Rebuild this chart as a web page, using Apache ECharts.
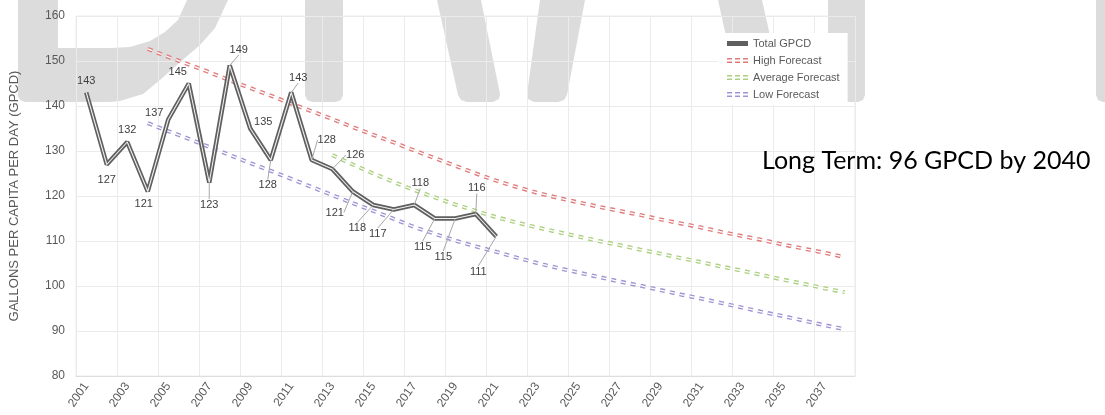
<!DOCTYPE html>
<html>
<head>
<meta charset="utf-8">
<title>Gallons per capita per day</title>
<script src="https://cdn.jsdelivr.net/npm/echarts@6/dist/echarts.min.js"></script>
<style>
  html, body { margin: 0; padding: 0; background: #ffffff; }
  #chart { width: 1105px; height: 415px; }
</style>
</head>
<body>
<div id="chart"></div>
<script>
// Category axis: one slot per year
const years = [
  '2001','2002','2003','2004','2005','2006','2007','2008','2009','2010',
  '2011','2012','2013','2014','2015','2016','2017','2018','2019','2020',
  '2021','2022','2023','2024','2025','2026','2027','2028','2029','2030',
  '2031','2032','2033','2034','2035','2036','2037','2038'
];

// Measured total GPCD, 2001-2021
const totalGpcd = [143, 127, 132, 121, 137, 145, 123, 149, 135, 128,
                   143, 128, 126, 121, 118, 117, 118, 115, 115, 116, 111];

// Forecast curves (first year, then one value per year to 2038)
const highForecastStart = '2004';
const highForecast = [152.7, 150.9, 149.2, 147.5, 145.7, 144.0, 142.3, 140.5, 138.8, 137.1,
                      135.3, 133.6, 131.9, 130.1, 128.4, 126.7, 125.0, 123.4, 122.0, 120.7,
                      119.6, 118.6, 117.6, 116.7, 115.8, 114.8, 113.9, 113.0, 112.0, 111.1,
                      110.2, 109.2, 108.3, 107.4, 106.4];

const averageForecastStart = '2013';
const averageForecast = [129.1, 127.0, 125.0, 123.1, 121.3, 119.7, 118.1, 116.7, 115.3, 114.1,
                         113.0, 112.0, 111.0, 110.0, 109.1, 108.1, 107.2, 106.2, 105.3, 104.3,
                         103.4, 102.4, 101.4, 100.5, 99.5, 98.6];

const lowForecastStart = '2004';
const lowForecast = [136.2, 134.4, 132.7, 130.9, 129.1, 127.3, 125.6, 123.8, 122.0, 120.2,
                     118.4, 116.7, 114.9, 113.1, 111.6, 110.1, 108.8, 107.6, 106.3, 105.1,
                     104.0, 103.0, 102.0, 101.0, 100.1, 99.1, 98.1, 97.2, 96.2, 95.2,
                     94.2, 93.3, 92.3, 91.3, 90.4];

// Value axis range
const yMin = 80, yMax = 160, yStep = 10;

// Callout placement for the total line labels (pixel shift of each label
// from its point) and whether a leader line is drawn
const calloutShift = [
  [0, -12], [0, 15], [0, -12], [-4, 12], [-14, -7], [-11, -12], [0, 22], [9, -16],
  [13, -7], [-3, 25], [7, -15], [15, -20], [23, -14], [-18, 21], [-16, 23], [-16, 24],
  [6, -22], [-12, 28], [-12, 38], [1, -26], [-18, 35]
];
const calloutLeader = [
  false, false, false, false, false, false, true, true,
  false, true, true, true, true, true, true, true,
  true, true, true, true, true
];

const FONT = '"Liberation Sans", Arial, sans-serif';
const TEXT_GREY = '#595959';
const LETTER_GREY = '#dcdcdc';
const TOTAL_GREY = '#5f5f5f';
const HIGH_RED = '#df7b7b';
const AVG_GREEN = '#acd080';
const LOW_PURPLE = '#a193d3';
const FORECAST_DASH = [5, 5];

// Legend swatch for the double dashed forecasts: three short paired dashes
const pairedDashIcon = 'path://M0,0h5v1.6h-5z M0,3.4h5v1.6h-5z M8,0h5v1.6h-5z M8,3.4h5v1.6h-5z M16,0h5v1.6h-5z M16,3.4h5v1.6h-5z';

// Outlines of the large letterforms printed behind the plot
const letterShapes = [
  [[18,0],[18,96],[20,100],[25,102],[110,102],[120,101],[143,94],[160,80],[178,64],[200,45],
   [215,28],[228,0],[187,0],[178,20],[165,32],[150,41],[130,47],[110,48],[58,48],[58,0]],
  [[305,0],[343,0],[343,95],[341,100],[336,102],[312,102],[307,100],[305,95]],
  [[437,0],[481,0],[500,94],[499,99],[493,102],[467,102],[461,100],[458,95]],
  [[540,0],[585,0],[567,95],[564,100],[558,102],[534,102],[528,99],[527,94]],
  [[718,0],[762,0],[783,94],[782,99],[776,102],[748,102],[742,100],[739,95]],
  [[828,0],[865,0],[865,95],[863,100],[858,102],[835,102],[830,100],[828,95]],
  [[1096,0],[1105,0],[1105,102],[1103,102],[1098,100],[1096,95]]
];

// Aligns a forecast list onto the year axis
function alignToYears(startYear, values) {
  const offset = years.indexOf(startYear);
  const out = years.map(() => null);
  values.forEach((v, i) => { out[offset + i] = v; });
  return out;
}

// Double dashed line: coloured dashes with a thin white core
function doubleDashed(name, color, startYear, values) {
  const data = alignToYears(startYear, values);
  return [
    {
      name: name, type: 'line', data: data, symbol: 'none', z: 2,
      silent: true,
      itemStyle: { color: color },
      lineStyle: { color: color, width: 4, type: FORECAST_DASH, dashOffset: 0, cap: 'butt' }
    },
    {
      name: name + ' core', type: 'line', data: data, symbol: 'none', z: 2,
      silent: true,
      itemStyle: { color: '#ffffff' },
      lineStyle: { color: '#ffffff', width: 1.3, type: FORECAST_DASH, dashOffset: 0, cap: 'butt' }
    }
  ];
}

const totalData = totalGpcd.map((v, i) => ({
  value: v,
  labelLine: { show: calloutLeader[i] }
}));

const chart = echarts.init(document.getElementById('chart'), null, { renderer: 'canvas' });

const option = {
  animation: false,
  backgroundColor: '#ffffff',
  textStyle: { fontFamily: FONT },
  grid: {
    left: 76, right: 250, top: 16, bottom: 39,
    show: true, borderColor: '#ebebeb', borderWidth: 1,
    outerBoundsMode: 'none'
  },
  graphic: {
    elements: [
      {
        type: 'group', z: -1, silent: true,
        children: letterShapes.map(pts => ({
          type: 'polygon',
          shape: { points: pts },
          style: { fill: LETTER_GREY }
        }))
      },
      {
        type: 'text', z: 100, silent: true,
        style: {
          x: 762, y: 161, text: 'Long Term: 96 GPCD by 2040',
          font: '25px Lato, "Open Sans", sans-serif', fill: '#000000',
          verticalAlign: 'middle', align: 'left'
        }
      }
    ]
  },
  legend: {
    orient: 'vertical',
    left: 718, top: 33,
    backgroundColor: '#ffffff',
    padding: [4, 8, 4, 9],
    itemWidth: 21, itemHeight: 5, itemGap: 4,
    textStyle: { fontSize: 11, color: TEXT_GREY, fontFamily: FONT, lineHeight: 13 },
    data: [
      { name: 'Total GPCD', icon: 'rect', itemStyle: { color: TOTAL_GREY } },
      { name: 'High Forecast', icon: pairedDashIcon, itemStyle: { color: HIGH_RED } },
      { name: 'Average Forecast', icon: pairedDashIcon, itemStyle: { color: AVG_GREEN } },
      { name: 'Low Forecast', icon: pairedDashIcon, itemStyle: { color: LOW_PURPLE } }
    ]
  },
  xAxis: {
    type: 'category',
    data: years,
    boundaryGap: true,
    axisLine: { show: true, lineStyle: { color: '#dedede', width: 1 } },
    axisTick: { show: false },
    axisLabel: {
      interval: 1, rotate: 55, margin: 8,
      color: TEXT_GREY, fontSize: 12, fontFamily: FONT
    },
    splitLine: { show: true, interval: 1, lineStyle: { color: '#ebebeb', width: 1 } }
  },
  yAxis: {
    type: 'value',
    min: yMin, max: yMax, interval: yStep,
    axisLine: { show: false },
    axisTick: { show: false },
    axisLabel: { color: TEXT_GREY, fontSize: 12, margin: 11, fontFamily: FONT },
    splitLine: { show: true, lineStyle: { color: '#ebebeb', width: 1 } },
    name: 'GALLONS PER CAPITA PER DAY (GPCD)',
    nameLocation: 'middle',
    nameRotate: 90,
    nameGap: 55,
    nameTextStyle: { color: TEXT_GREY, fontSize: 13, fontFamily: FONT }
  },
  series: [
    ...doubleDashed('High Forecast', HIGH_RED, highForecastStart, highForecast),
    ...doubleDashed('Average Forecast', AVG_GREEN, averageForecastStart, averageForecast),
    ...doubleDashed('Low Forecast', LOW_PURPLE, lowForecastStart, lowForecast),
    {
      name: 'Total GPCD',
      type: 'line',
      data: totalData,
      z: 3,
      symbol: 'circle',
      symbolSize: 1,
      showSymbol: true,
      itemStyle: { color: 'rgba(0,0,0,0)' },
      lineStyle: { color: TOTAL_GREY, width: 4.5 },
      label: {
        show: true,
        position: 'inside',
        color: '#404040',
        fontSize: 11,
        fontFamily: FONT
      },
      labelLine: {
        show: true,
        lineStyle: { color: '#a6a6a6', width: 1 }
      },
      labelLayout: function (params) {
        const s = calloutShift[params.dataIndex] || [0, -12];
        return { dx: s[0], dy: s[1] };
      }
    },
    {
      name: 'Total GPCD core',
      type: 'line',
      data: totalGpcd,
      z: 3,
      symbol: 'none',
      silent: true,
      lineStyle: { color: '#ffffff', width: 1.1, opacity: 0.9 }
    }
  ]
};

chart.setOption(option);
</script>
</body>
</html>
